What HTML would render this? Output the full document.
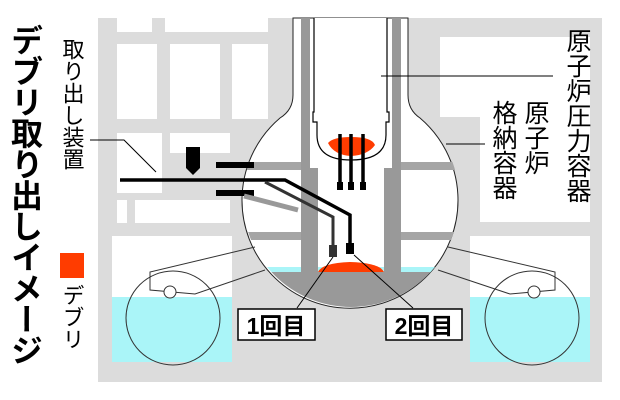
<!DOCTYPE html>
<html><head><meta charset="utf-8"><style>
html,body{margin:0;padding:0;background:#fff;width:620px;height:400px;overflow:hidden}
svg{display:block}
text{font-family:"Liberation Sans","Noto Sans CJK JP",sans-serif;fill:#000}
</style></head><body>
<svg width="620" height="400" viewBox="0 0 620 400" xmlns="http://www.w3.org/2000/svg">
<defs>
<clipPath id="circ"><circle cx="351" cy="199" r="108"/></clipPath>
</defs>
<rect x="98" y="18" width="504" height="364" fill="#dcdcdc"/>
<rect x="117" y="18" width="35" height="14" fill="#fff"/>
<rect x="165" y="18" width="103" height="14" fill="#fff"/>
<rect x="117" y="44" width="40" height="75" fill="#fff"/>
<rect x="170" y="44" width="50" height="75" fill="#fff"/>
<rect x="232" y="44" width="36" height="75" fill="#fff"/>
<rect x="117" y="133" width="45" height="60" fill="#fff"/>
<rect x="170" y="133" width="60" height="20" fill="#fff"/>
<rect x="117" y="200" width="10" height="23" fill="#fff"/>
<rect x="135" y="200" width="95" height="23" fill="#fff"/>
<rect x="112" y="236" width="120" height="62" fill="#fff"/>
<rect x="440" y="37" width="150" height="80" fill="#fff"/>
<rect x="480" y="117" width="110" height="105" fill="#fff"/>
<rect x="470" y="236" width="120" height="62" fill="#fff"/>
<path d="M293 18 L293 95 Q293 110 280 118 A108 108 0 1 0 420 118 Q408 110 408 95 L408 18 Z" fill="#fff" stroke="#222" stroke-width="1"/>
<g clip-path="url(#circ)">
<rect x="240" y="162" width="62" height="8" fill="#a5a5a5"/>
<rect x="400" y="162" width="70" height="8" fill="#a5a5a5"/>
<rect x="240" y="232" width="62" height="8" fill="#a5a5a5"/>
<rect x="400" y="232" width="70" height="8" fill="#a5a5a5"/>
<rect x="240" y="267" width="230" height="6" fill="#aaf5f8"/>
<rect x="240" y="272" width="230" height="40" fill="#999"/>
</g>
<rect x="301" y="18" width="9" height="260" fill="#999"/>
<rect x="392" y="18" width="9" height="260" fill="#999"/>
<rect x="310" y="168" width="8" height="10" fill="#999"/>
<rect x="384" y="168" width="9" height="105" fill="#999"/>
<rect x="310" y="178" width="8" height="95" fill="#999"/>
<path d="M314 18 L314 112 L313 112 L313 122 L317 122 L317 135 Q317 160 351 160 Q386 160 386 135 L386 122 L389 122 L389 112 L387 112 L387 18" fill="#fff" stroke="#000" stroke-width="1.2"/>
<path d="M328 143 Q333 137 351 137 Q372 137 375 145 Q368 155 351 156 Q334 155 328 143Z" fill="#ff3c00"/>
<g stroke="#000" stroke-width="3.5"><line x1="340" y1="134" x2="340" y2="186"/><line x1="351" y1="134" x2="351" y2="186"/><line x1="363" y1="134" x2="363" y2="186"/></g>
<g fill="#000"><rect x="337" y="182" width="6" height="8"/><rect x="348" y="182" width="6" height="8"/><rect x="360" y="182" width="6" height="8"/></g>
<path d="M318 272 Q322 263 350 262 Q380 263 384 272Z" fill="#ff3c00"/>
<rect x="112" y="297" width="120" height="65" fill="#aaf5f8"/>
<rect x="470" y="297" width="120" height="65" fill="#aaf5f8"/>
<g fill="none" stroke="#333" stroke-width="1">
<circle cx="173" cy="318" r="47"/>
<circle cx="532" cy="318" r="47"/>
<path d="M255 247 L150 272 L150 290 L195 294 L265 270"/>
<path d="M448 247 L555 272 L555 290 L510 294 L438 270"/>
</g>
<circle cx="170" cy="292" r="6" fill="#fff" stroke="#333"/>
<circle cx="534" cy="292" r="6" fill="#fff" stroke="#333"/>
<rect x="216" y="162" width="38" height="6" fill="#000"/>
<rect x="216" y="190" width="38" height="6" fill="#000"/>
<path d="M244 196 L298 210" stroke="#999" stroke-width="5"/>
<path d="M186 147 L200 147 L200 168 L193 175 L186 168Z" fill="#000"/>
<path d="M120 180 L285 180 L350 215 L350 250" fill="none" stroke="#000" stroke-width="3.5"/>
<path d="M265 182 L333 217 L333 248" fill="none" stroke="#333" stroke-width="3"/>
<rect x="329" y="245" width="8" height="12" fill="#333"/>
<rect x="346" y="243" width="8" height="11" fill="#000"/>
<g stroke="#000" stroke-width="1" fill="none">
<path d="M90 140 L124 140 L156 172"/>
<path d="M553 76 L381 76"/>
<path d="M485 144 L446 144"/>
<path d="M297 308 L333 257"/>
<path d="M413 308 L354 255"/>
</g>
<rect x="238" y="309" width="77" height="31" fill="#fff" stroke="#000" stroke-width="1.5"/>
<rect x="386" y="309" width="76" height="31" fill="#fff" stroke="#000" stroke-width="1.5"/>
<text x="276" y="334" font-size="23" font-weight="bold" text-anchor="middle">1回目</text>
<text x="424" y="334" font-size="23" font-weight="bold" text-anchor="middle">2回目</text>
<text x="577" y="28" font-size="25" style="writing-mode:vertical-rl" text-anchor="start">原子炉圧力容器</text>
<text x="535" y="100" font-size="25" style="writing-mode:vertical-rl">原子炉</text>
<text x="503" y="100" font-size="25" style="writing-mode:vertical-rl">格納容器</text>
<text x="25" y="24" font-size="32" font-weight="bold" style="writing-mode:vertical-rl;letter-spacing:-1px">デブリ取り出しイメージ</text>
<text x="72" y="38" font-size="22" style="writing-mode:vertical-rl">取り出し装置</text>
<rect x="60" y="253" width="24" height="25" fill="#ff3c00"/>
<text x="72" y="284" font-size="22" style="writing-mode:vertical-rl">デブリ</text>
</svg>
</body></html>
